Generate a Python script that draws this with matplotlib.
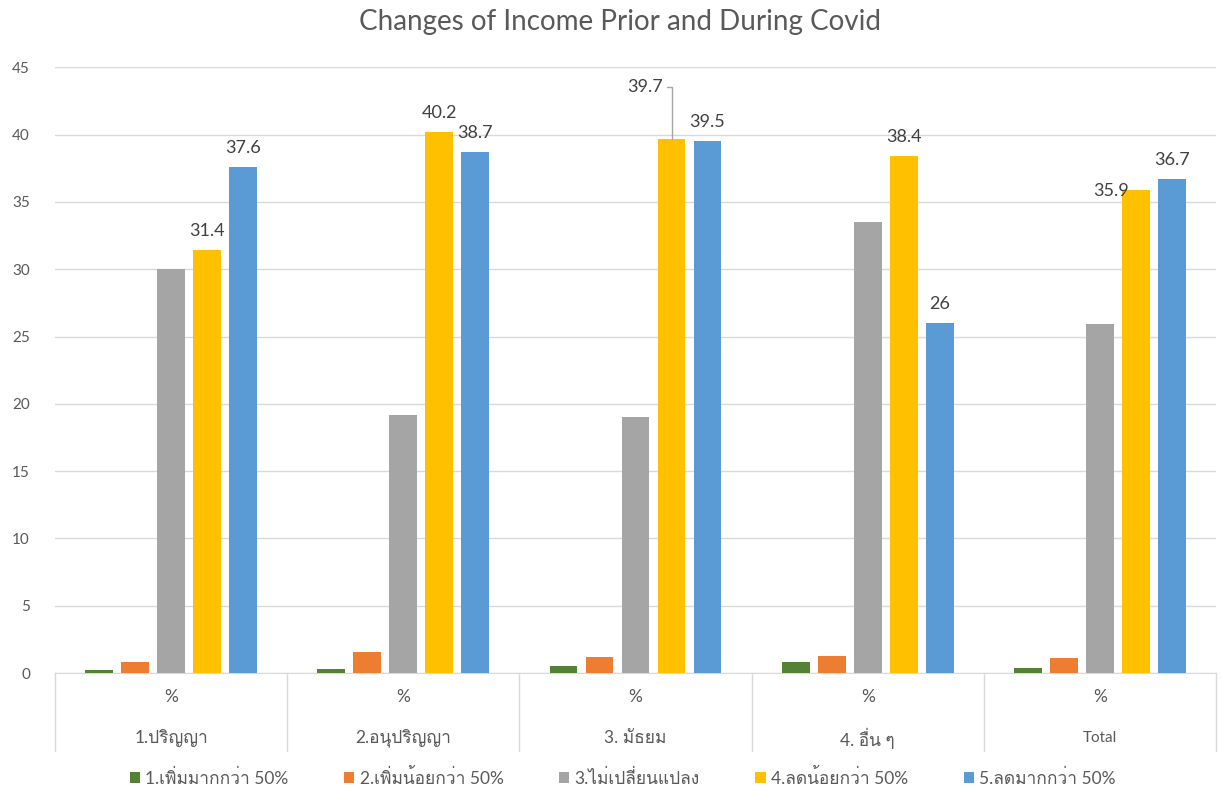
import matplotlib
matplotlib.use("Agg")
import matplotlib.pyplot as plt
import numpy as np
from matplotlib import font_manager
from matplotlib.ft2font import FT2Font

# Thai-capable font (Loma preferred, else first one that has Thai glyphs)
thai_font = None
for f in sorted(font_manager.findSystemFonts()):
    try:
        if 0x0E1B in FT2Font(f).get_charmap():
            name = font_manager.FontProperties(fname=f).get_name()
            if thai_font is None or name == 'Loma':
                font_manager.fontManager.addfont(f)
                thai_font = name
            if name == 'Loma':
                break
    except Exception:
        pass
plt.rcParams['font.family'] = ['Lato'] + ([thai_font] if thai_font else []) + ['DejaVu Sans']

categories = ['1.ปริญญา', '2.อนุปริญญา', '3. มัธยม', '4. อื่น ๆ', 'Total']
series = ['1.เพิ่มมากกว่า 50%', '2.เพิ่มน้อยกว่า 50%', '3.ไม่เปลี่ยนแปลง',
          '4.ลดน้อยกว่า 50%', '5.ลดมากกว่า 50%']
inc_more = [0.2, 0.3, 0.5, 0.8, 0.4]
inc_less = [0.8, 1.6, 1.2, 1.3, 1.1]
no_change = [30.0, 19.2, 19.0, 33.5, 25.9]
dec_less = [31.4, 40.2, 39.7, 38.4, 35.9]
dec_more = [37.6, 38.7, 39.5, 26.0, 36.7]
colors = ['#548235', '#ed7d31', '#a5a5a5', '#ffc000', '#5b9bd5']

values = [inc_more, inc_less, no_change, dec_less, dec_more]
text_c = '#595959'
label_c = '#404040'
grid_c = '#d9d9d9'

fig = plt.figure(figsize=(12.21, 7.91), dpi=100)
ax = fig.add_axes([0.045, 0.149, 0.951, 0.766])

x = np.arange(len(categories))
pitch = 0.155
width = 0.12
bars = []
for i, (vals, col, name) in enumerate(zip(values, colors, series)):
    b = ax.bar(x + (i - 2) * pitch, vals, width, color=col, label=name, zorder=3)
    bars.append(b)

# data labels on the two "decrease" series
for b, vals in zip(bars[3:], values[3:]):
    for rect, v in zip(b, vals):
        xc = rect.get_x() + rect.get_width() / 2
        txt = f'{v:g}'
        if txt == '39.7':
            # label pushed up-left with a leader line
            ax.annotate(txt, (xc, v), xytext=(-19, 37), textcoords='offset points',
                        ha='center', va='center', fontsize=13, color=label_c,
                        arrowprops=dict(arrowstyle='-', color='#a6a6a6', lw=1,
                                        connectionstyle='angle,angleA=0,angleB=90,rad=0',
                                        relpos=(1, 0.5), shrinkA=1, shrinkB=0))
        elif txt == '35.9':
            ax.annotate(txt, (xc, v), xytext=(-18, -1), textcoords='offset points',
                        ha='center', va='center', fontsize=13, color=label_c)
        else:
            ax.annotate(txt, (xc, v), xytext=(0, 8), textcoords='offset points',
                        ha='center', va='bottom', fontsize=13, color=label_c)

ax.set_ylim(0, 45)
ax.set_xlim(-0.5, len(categories) - 0.5)
ax.set_yticks(np.arange(0, 46, 5))
ax.yaxis.grid(True, color=grid_c, lw=1, zorder=0)
ax.tick_params(axis='y', length=0, labelsize=11, labelcolor=text_c, pad=18)
ax.set_xticks([])
for s in ['top', 'right', 'left']:
    ax.spines[s].set_visible(False)
ax.spines['bottom'].set_color(grid_c)

# two-level category axis
trans = ax.get_xaxis_transform()
for b in np.arange(-0.5, len(categories), 1):
    ax.plot([b, b], [0, -0.128], transform=trans, color=grid_c, lw=1, clip_on=False)
for xi, c in zip(x, categories):
    ax.text(xi, -0.04, '%', transform=trans, ha='center', va='center',
            fontsize=12.5, color=text_c)
    ax.text(xi, -0.107, c, transform=trans, ha='center', va='center',
            fontsize=12.5 if c != 'Total' else 11, color=text_c)

fig.text(0.508, 0.972, 'Changes of Income Prior and During Covid', fontsize=20,
         color=text_c, ha='center', va='center')

fig.legend(loc='center', bbox_to_anchor=(0.51, 0.017), ncol=5, frameon=False,
           fontsize=12.5, handlelength=0.6, handleheight=0.6, handletextpad=0.3,
           columnspacing=3.2, labelcolor=text_c)

fig.savefig('out.png', dpi=100)
